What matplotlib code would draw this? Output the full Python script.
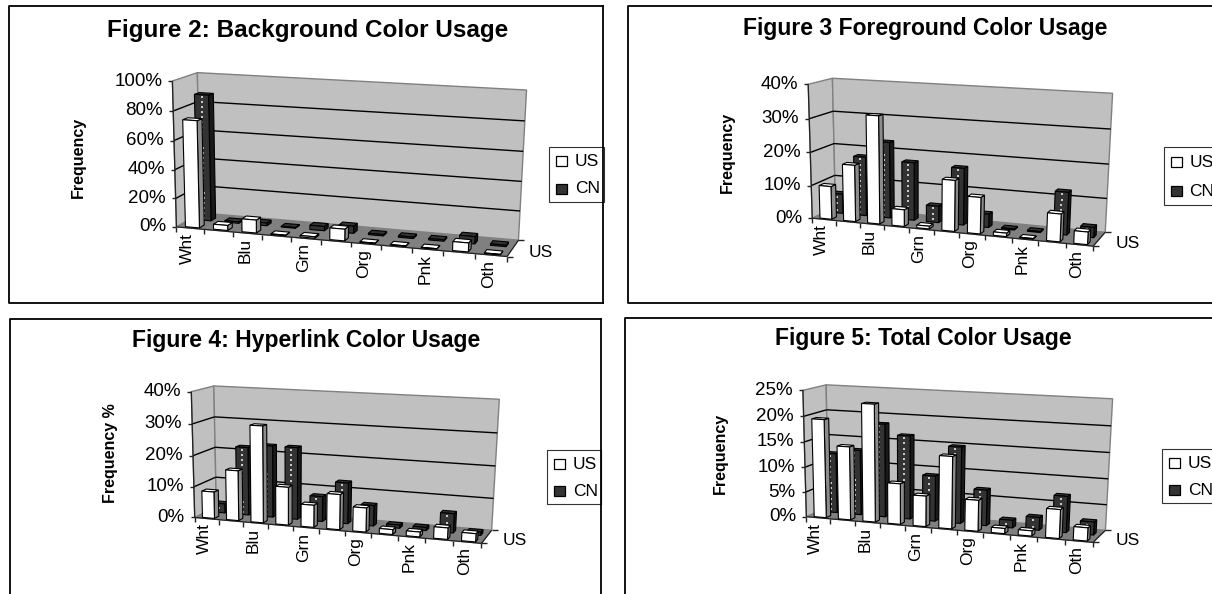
import numpy as np
import matplotlib
matplotlib.use("Agg")
import matplotlib.pyplot as plt
from matplotlib.patches import Polygon, Rectangle

plt.rcParams["font.family"] = ["Liberation Sans", "DejaVu Sans"]

W, H = 1212, 594

cat_labels = ["Wht", "", "Blu", "", "Grn", "", "Org", "", "Pnk", "", "Oth"]

bg_us = [74, 3.5, 9, 0.3, 1, 8, 0.3, 0.3, 0.3, 6, 0.3]
bg_cn = [88, 1, 2, 0.5, 3, 5, 1, 1, 1, 5, 1]
fg_us = [10, 17, 32, 5, 0.8, 15, 10.7, 1, 0.2, 8, 3.6]
fg_cn = [6, 18, 23, 17.5, 5, 17, 4, 0.3, 0.3, 12.5, 3]
link_us = [8.6, 16, 30.5, 12, 7, 11, 7.5, 1.5, 1.5, 3.5, 2.5]
link_cn = [3, 22, 23, 23, 8, 13, 6.5, 1, 1, 6, 1]
total_us = [19.5, 14.5, 23, 8, 6, 14, 6, 1, 1, 5.5, 2.5]
total_cn = [12, 13, 18.5, 16.5, 9, 15, 7, 1.5, 2.5, 7, 2.5]

WALL = "#c0c0c0"
FLOOR = "#808080"
EDGE = "#808080"
DARK = "#333333"
SIDE_US = "#8c8c8c"
SIDE_CN = "#1a1a1a"


def fit_camera(corners):
    # corners: (x, depth, v) in 0..1 -> pixel, plain DLT
    rows = []
    for (x, d, v), (px, py) in corners:
        p = [x, d, v, 1]
        rows.append(p + [0, 0, 0, 0] + [-px * c for c in p])
        rows.append([0, 0, 0, 0] + p + [-py * c for c in p])
    _, _, vt = np.linalg.svd(np.array(rows, dtype=float))
    return vt[-1].reshape(3, 4)


class Chart:
    def __init__(self, ax, ymax, step, corners):
        self.ax = ax
        self.ymax = ymax
        self.step = step
        self.P = fit_camera(corners)

    def pt(self, slot, depth, val):
        q = self.P @ np.array([slot / 11, depth, val / self.ymax, 1.0])
        return q[0] / q[2], q[1] / q[2]

    def poly(self, pts, fc, ec="black", lw=0.8, z=2):
        self.ax.add_patch(Polygon(pts, closed=True, facecolor=fc, edgecolor=ec,
                                  linewidth=lw, zorder=z, joinstyle="miter"))

    def line(self, a, b, color="black", lw=1.0, z=1.5):
        self.ax.plot([a[0], b[0]], [a[1], b[1]], color=color, lw=lw, zorder=z,
                     solid_capstyle="butt")

    def walls(self):
        pt, top = self.pt, self.ymax
        self.poly([pt(0, 0, 0), pt(0, 1, 0), pt(11, 1, 0), pt(11, 0, 0)], FLOOR, EDGE, 0.8, 1)
        self.poly([pt(0, 0, 0), pt(0, 1, 0), pt(0, 1, top), pt(0, 0, top)], WALL, EDGE, 1.0, 1)
        self.poly([pt(0, 1, 0), pt(11, 1, 0), pt(11, 1, top), pt(0, 1, top)], WALL, EDGE, 1.0, 1)

    def yaxis(self):
        for v in np.arange(0, self.ymax + self.step / 2, self.step):
            if v > 0 and v < self.ymax:
                self.line(self.pt(0, 0, v), self.pt(0, 1, v))
                self.line(self.pt(0, 1, v), self.pt(11, 1, v))
            fx, fy = self.pt(0, 0, v)
            self.line((fx - 4, fy), (fx, fy), color="#222222")
            self.ax.text(fx - 10, fy, f"{v:.0f}%", ha="right", va="center", fontsize=13.5)

    def xaxis(self, labels):
        self.line(self.pt(0, 0, 0), self.pt(0, 0, self.ymax), color="#222222", lw=0.9, z=1.6)
        self.line(self.pt(0, 0, 0), self.pt(11, 0, 0), color="#222222", lw=0.9, z=1.6)
        for i in range(12):
            x, y = self.pt(i, 0, 0)
            self.line((x, y), (x, y + 5), color="#222222")
        for i, lab in enumerate(labels):
            if lab:
                x, y = self.pt(i + 0.5, 0, 0)
                self.ax.text(x - 2.5, y + 5, lab, rotation=90, ha="center", va="top", fontsize=12.5)

    def depth_axis(self, label):
        self.line(self.pt(11, 0, 0), self.pt(11, 1, 0), color="#222222", lw=0.9, z=1.6)
        for d in (0, 1):
            x, y = self.pt(11, d, 0)
            self.line((x, y), (x + 6, y), color="#222222")
        x, y = self.pt(11, 0.5, 0)
        self.ax.text(x + 16, y + 4, label, ha="left", va="center", fontsize=12.5)

    def bar(self, slot, d0, val, fc, side, dots=False):
        x0, x1 = slot + 0.27, slot + 0.77
        d1 = d0 + 0.2
        pt = self.pt
        self.poly([pt(x1, d0, 0), pt(x1, d1, 0), pt(x1, d1, val), pt(x1, d0, val)], side)
        self.poly([pt(x0, d0, val), pt(x1, d0, val), pt(x1, d1, val), pt(x0, d1, val)], fc)
        self.poly([pt(x0, d0, 0), pt(x1, d0, 0), pt(x1, d0, val), pt(x0, d0, val)], fc)
        if dots:
            bx, by = pt((x0 + x1) / 2, d0, 0)
            tx, ty = pt((x0 + x1) / 2, d0, val)
            n = int((by - ty) // 5)
            if n > 0:
                fr = (np.arange(n) + 0.5) / n
                self.ax.plot(bx + (tx - bx) * fr, by + (ty - by) * fr, ls="none", marker="s",
                             ms=1.7, mew=0, color="#c8c8c8", zorder=2)

    def bars(self, us, cn):
        for i, v in enumerate(cn):
            self.bar(i, 0.55, v, DARK, SIDE_CN, dots=True)
        for i, v in enumerate(us):
            self.bar(i, 0.06, v, "white", SIDE_US)


def legend(ax, x, y, w, h):
    ax.add_patch(Rectangle((x, y), w, h, facecolor="white", edgecolor="#333333", lw=0.8, zorder=3))
    for frac, name, fc in [(0.26, "US", "white"), (0.76, "CN", DARK)]:
        cy = y + h * frac
        ax.add_patch(Rectangle((x + 7, cy - 5), 11, 10, facecolor=fc, edgecolor="black", lw=0.9, zorder=4))
        ax.text(x + 26, cy, name, ha="left", va="center", fontsize=12.5, zorder=4, clip_on=True)


def frame(ax, x0, y0, x1, y1):
    ax.plot([x1, x0, x0, x1], [y1, y1, y0, y0], color="black", lw=1.3, zorder=5)
    if x1 < W:
        ax.plot([x1, x1], [y0, y1], color="black", lw=1.3, zorder=5)


fig = plt.figure(figsize=(W / 100, H / 100), dpi=100)
ax = fig.add_axes([0, 0, 1, 1])
ax.set_xlim(0, W)
ax.set_ylim(H, 0)
ax.axis("off")

panels = [
    dict(title="Figure 2: Background Color Usage", title_xy=(308, 30), title_size=17.5, ylabel="Frequency",
         ylabel_xy=(78, 157), us=bg_us, cn=bg_cn, ymax=100, step=20,
         fl=(177.9, 226.7), bl=(198.9, 213), br=(518.6, 240), fr=(507, 256.7),
         ft=(170.9, 81), bt=(198.9, 72.7), rt=(526.4, 90),
         frame=(9, 6, 603, 303), leg=(549, 147, 55, 55)),
    dict(title="Figure 3 Foreground Color Usage", title_xy=(925, 28), title_size=16.5, ylabel="Frequency",
         ylabel_xy=(727, 152), us=fg_us, cn=fg_cn, ymax=40, step=10,
         fl=(812.5, 216.7), bl=(835.1, 208), br=(1104.9, 231.7), fr=(1093.6, 246.7),
         ft=(807.5, 85.3), bt=(833.2, 77.3), rt=(1112.5, 93.3),
         frame=(627.5, 6, 1214, 303), leg=(1163.5, 147, 60, 58)),
    dict(title="Figure 4: Hyperlink Color Usage", title_xy=(306.5, 340), title_size=16.5, ylabel="Frequency %",
         ylabel_xy=(110, 453), us=link_us, cn=link_cn, ymax=40, step=10,
         fl=(195.4, 516), bl=(215.6, 508), br=(491.5, 529.3), fr=(481.7, 544.3),
         ft=(190.4, 392.3), bt=(214.8, 385.3), rt=(499.2, 399.3),
         frame=(9.5, 319, 601, 596), leg=(547, 450, 54, 54)),
    dict(title="Figure 5: Total Color Usage", title_xy=(923, 338), title_size=16.5, ylabel="Frequency",
         ylabel_xy=(720, 453), us=total_us, cn=total_cn, ymax=25, step=5,
         fl=(807.5, 515), bl=(827.5, 508.3), br=(1105.7, 528.3), fr=(1092.8, 544.3),
         ft=(801.9, 390.3), bt=(827.2, 384.7), rt=(1112.5, 399),
         frame=(625, 318, 1214, 596), leg=(1162, 449, 60, 54)),
]

for p in panels:
    corners = [((0, 0, 0), p["fl"]), ((0, 1, 0), p["bl"]), ((1, 1, 0), p["br"]), ((1, 0, 0), p["fr"]),
               ((0, 0, 1), p["ft"]), ((0, 1, 1), p["bt"]), ((1, 1, 1), p["rt"])]
    ch = Chart(ax, p["ymax"], p["step"], corners)
    ch.walls()
    ch.yaxis()
    ch.xaxis(cat_labels)
    ch.depth_axis("US")
    ch.bars(p["us"], p["cn"])
    ax.text(*p["title_xy"], p["title"], ha="center", va="center", fontsize=p["title_size"], fontweight="bold")
    ax.text(*p["ylabel_xy"], p["ylabel"], rotation=90, ha="center", va="center", fontsize=11.5, fontweight="bold")
    legend(ax, *p["leg"])
    frame(ax, *p["frame"])

fig.savefig("out.png", dpi=100)
